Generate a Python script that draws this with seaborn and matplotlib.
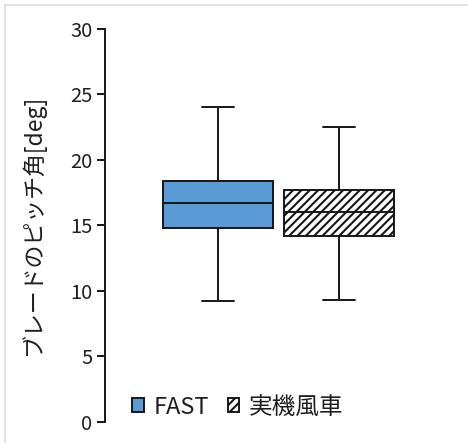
import matplotlib
matplotlib.use("Agg")
import matplotlib.pyplot as plt
from matplotlib.patches import Patch
from matplotlib.lines import Line2D
import numpy as np
import pandas as pd
import seaborn as sns

# Five-number summaries (min, Q1, median, Q3, max) of blade pitch angle [deg]
series = ["FAST", "実機風車"]
fast_summary = [9.2, 14.8, 16.7, 18.4, 24.0]
real_summary = [9.3, 14.2, 16.0, 17.7, 22.5]
yticks = [0, 5, 10, 15, 20, 25, 30]

fill_colors = ["#5b9bd5", "#ffffff"]
line_color = "#161616"
text_color = "#1e1e1e"

sns.set_theme(style="white")
plt.rcParams["font.family"] = ["Noto Sans CJK JP", "DejaVu Sans"]
plt.rcParams["hatch.linewidth"] = 1.5
plt.rcParams["hatch.color"] = line_color

df = pd.DataFrame({
    "series": np.repeat(series, 5),
    "angle": fast_summary + real_summary,
})

fig = plt.figure(figsize=(4.68, 4.43), dpi=100)
ax = fig.add_axes([105 / 468, 21.5 / 443, 355 / 468, 392.5 / 443])

sns.boxplot(
    data=df, x="series", y="angle", hue="series", order=series,
    hue_order=series, palette=fill_colors, saturation=1, whis=(0, 100),
    width=0.917, linewidth=1.4, linecolor=line_color, legend=False, ax=ax,
    capwidths=0.265,
)

# hatch the second box
boxes = [p for p in ax.patches]
boxes[1].set_hatch("////")

ax.set_xlim(-0.934, 2.0)
ax.set_ylim(0, 30)
ax.set_yticks(yticks)
ax.set_xticks([])
ax.set_xlabel("")
ax.set_ylabel("ブレードのピッチ角[deg]", fontsize=16.5, color=text_color, labelpad=18)
ax.tick_params(axis="y", direction="out", length=6, width=1.4, color=line_color,
               labelsize=14.5, labelcolor=text_color, pad=3, left=True)
for side in ["top", "right", "bottom"]:
    ax.spines[side].set_visible(False)
ax.spines["left"].set_color(line_color)
ax.spines["left"].set_linewidth(1.4)

handles = [
    Patch(facecolor=fill_colors[0], edgecolor=line_color, linewidth=1.4),
    Patch(facecolor="white", edgecolor=line_color, linewidth=1.4, hatch="////"),
]
fig.legend(handles, series, loc="center left", bbox_to_anchor=(132 / 468, 1 - 407 / 443),
           ncol=2, frameon=False, fontsize=17, handlelength=0.5, handleheight=0.55,
           handletextpad=0.4, columnspacing=0.8, borderaxespad=0, borderpad=0,
           labelcolor=text_color)

# light frame along the top and left edges
fig.add_artist(Line2D([4.5 / 468, 1], [1 - 4.5 / 443, 1 - 4.5 / 443], transform=fig.transFigure,
                      color="#dddddd", linewidth=1.2))
fig.add_artist(Line2D([4.5 / 468, 4.5 / 468], [0, 1 - 4.5 / 443], transform=fig.transFigure,
                      color="#dddddd", linewidth=1.2))

fig.savefig("out.png", dpi=100)
